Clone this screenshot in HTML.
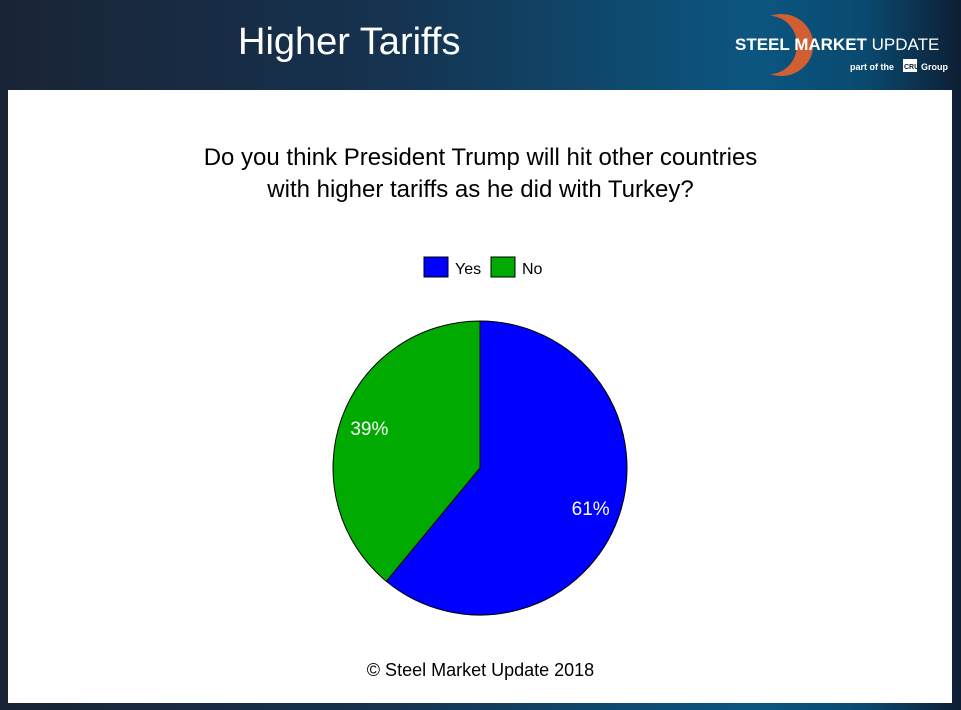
<!DOCTYPE html>
<html><head><meta charset="utf-8"><style>
body{margin:0;width:961px;height:710px;overflow:hidden;font-family:"Liberation Sans",sans-serif;}
#bg{position:absolute;left:0;top:0;width:961px;height:710px;background:linear-gradient(90deg,#1a2436 0%,#15324f 40%,#0b5680 78%,#0a4a70 90%,#0d1e33 100%);}
#panel{position:absolute;left:8px;top:90px;width:944px;height:613px;background:#fff;}
.t{position:absolute;}
</style></head><body>
<div id="bg"></div>
<div class="t" style="left:238px;top:21px;font-size:38px;color:#fff;">Higher Tariffs</div>
<svg class="t" style="left:730px;top:8px" width="231" height="75">
<path d="M40 8 A32 31 0 1 1 40 66 A26 28 0 1 0 40 8Z" fill="#e8602a" opacity="0.9"/>
<text x="5" y="42" font-size="17" font-weight="bold" fill="#fff" font-family="Liberation Sans">STEEL MARKET <tspan font-weight="normal">UPDATE</tspan></text>
<text x="120" y="62" font-size="9" font-weight="bold" fill="#fff" font-family="Liberation Sans">part of the</text>
<rect x="173" y="51" width="14" height="13" fill="#fff"/>
<text x="174" y="61" font-size="7" font-weight="bold" fill="#123" font-family="Liberation Sans">CRU</text>
<text x="191" y="62" font-size="9" font-weight="bold" fill="#fff" font-family="Liberation Sans">Group</text>
</svg>
<div id="panel"></div>
<div class="t" style="left:0;width:961px;top:142px;text-align:center;font-size:24px;line-height:32px;color:#000;">Do you think President Trump will hit other countries<br>with higher tariffs as he did with Turkey?</div>
<svg class="t" style="left:0;top:0" width="961" height="710" id="chart">
<g id="legend"></g><g id="pie"></g>
</svg>
<div class="t" style="left:0;width:961px;top:660px;text-align:center;font-size:18px;">© Steel Market Update 2018</div>
<script>
const categories=["Yes","No"];
const values=[61,39];
const colors=["#0000ff","#00aa00"];
const ns="http://www.w3.org/2000/svg";
const cx=480,cy=468,r=147;
const pie=document.getElementById('pie'),leg=document.getElementById('legend');
const total=values.reduce((a,b)=>a+b,0);
let a0=0;
values.forEach((v,i)=>{
 const a1=a0+v/total*2*Math.PI;
 const p=a=>[cx+r*Math.sin(a),cy-r*Math.cos(a)];
 const [x0,y0]=p(a0),[x1,y1]=p(a1);
 const path=document.createElementNS(ns,'path');
 path.setAttribute('d',`M${cx},${cy}L${x0},${y0}A${r},${r} 0 ${a1-a0>Math.PI?1:0} 1 ${x1},${y1}Z`);
 path.setAttribute('fill',colors[i]);path.setAttribute('stroke','#000');path.setAttribute('stroke-width','1');
 
 
 pie.appendChild(path);
 const am=(a0+a1)/2,lr=r*0.8;
 const t=document.createElementNS(ns,'text');
 t.setAttribute('x',cx+lr*Math.sin(am));t.setAttribute('y',cy-lr*Math.cos(am)+7);
 t.setAttribute('text-anchor','middle');t.setAttribute('fill','#fff');t.setAttribute('font-size','19');
 t.setAttribute('font-family','Liberation Sans');
 t.textContent=v+'%';
 
 
 pie.appendChild(t);
 a0=a1;
 const lx=424+i*67;
 const rc=document.createElementNS(ns,'rect');
 rc.setAttribute('x',lx);rc.setAttribute('y',257);rc.setAttribute('width',24);rc.setAttribute('height',20);
 rc.setAttribute('fill',colors[i]);rc.setAttribute('stroke','#000');
 
 
 leg.appendChild(rc);
 const lt=document.createElementNS(ns,'text');
 lt.setAttribute('x',lx+31);lt.setAttribute('y',274);lt.setAttribute('font-size','16');lt.setAttribute('font-family','Liberation Sans');
 lt.textContent=categories[i];
 
 
 leg.appendChild(lt);
});
</script>
</body></html>
